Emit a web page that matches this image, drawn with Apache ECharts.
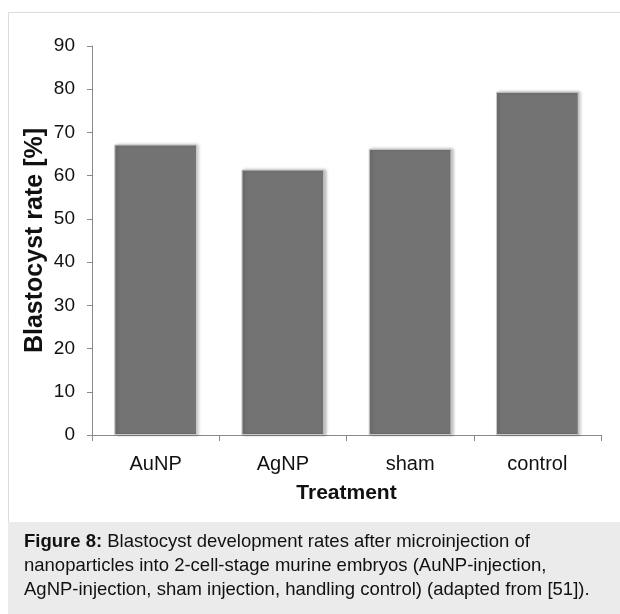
<!DOCTYPE html>
<html>
<head>
<meta charset="utf-8">
<script src="https://cdn.jsdelivr.net/npm/echarts@6/dist/echarts.min.js"></script>
<style>
html,body{margin:0;padding:0;background:#fff;}
#chart{width:620px;height:614px;}
</style>
</head>
<body>
<div id="chart"></div>
<script>
const categories = ['AuNP', 'AgNP', 'sham', 'control'];
const blastocystRate = [67.2, 61.4, 66.2, 79.4];
const yTicks = {min: 0, max: 90, interval: 10};
const yTitle = 'Blastocyst rate [%]';
const xTitle = 'Treatment';
const captionBold = 'Figure 8:';
const captionLines = [
  ' Blastocyst development rates after microinjection of',
  'nanoparticles into 2-cell-stage murine embryos (AuNP-injection,',
  'AgNP-injection, sham injection, handling control) (adapted from [51]).'
];

const chart = echarts.init(document.getElementById('chart'), null, {renderer: 'canvas'});
const FONT = '"Liberation Sans", Arial, sans-serif';
const option = {
  animation: false,
  backgroundColor: '#fff',
  grid: {left: 92, right: 19, top: 46, bottom: 179, containLabel: false},
  xAxis: {
    type: 'category',
    data: categories,
    axisLine: {lineStyle: {color: '#8a8a8a', width: 1}},
    axisTick: {show: true, length: 6, lineStyle: {color: '#8a8a8a'}},
    axisLabel: {color: '#111', fontSize: 20, fontFamily: FONT, margin: 19},
    name: xTitle,
    nameLocation: 'middle',
    nameGap: 48,
    nameMoveOverlap: false,
    nameTextStyle: {color: '#111', fontSize: 21, fontWeight: 'bold', fontFamily: FONT}
  },
  yAxis: {
    type: 'value',
    min: yTicks.min, max: yTicks.max, interval: yTicks.interval,
    axisLine: {show: true, lineStyle: {color: '#8a8a8a', width: 1}},
    axisTick: {show: true, length: 5, lineStyle: {color: '#8a8a8a'}},
    splitLine: {show: false},
    axisLabel: {color: '#111', fontSize: 19, fontFamily: FONT, margin: 17},
    name: yTitle,
    nameLocation: 'middle',
    nameGap: 44,
    nameMoveOverlap: false,
    nameRotate: 90,
    nameTextStyle: {color: '#111', fontSize: 25, fontWeight: 'bold', fontFamily: FONT}
  },
  series: [{
    type: 'bar',
    data: blastocystRate,
    barWidth: '65%',
    itemStyle: {
      color: '#737373',
      borderColor: '#c8c8c8',
      borderWidth: 1,
      shadowColor: 'rgba(0,0,0,0.25)',
      shadowBlur: 3,
      shadowOffsetX: 2,
      shadowOffsetY: 0
    }
  }],
  graphic: [
    {type: 'rect', z: -10, shape: {x: 8.5, y: 12.5, width: 640, height: 620}, style: {fill: 'none', stroke: '#dcdcdc', lineWidth: 1}},
    {type: 'rect', z: -9, shape: {x: 8, y: 522, width: 640, height: 100}, style: {fill: '#ebebeb'}},
    {
      type: 'text', left: 24, top: 532, z: 10,
      style: {
        text: '{b|' + captionBold + '}{n|' + captionLines[0] + '}\n{n|' + captionLines[1] + '}\n{n|' + captionLines[2] + '}',
        rich: {
          b: {fontFamily: FONT, fontSize: 18.5, fontWeight: 'bold', fill: '#111', lineHeight: 24},
          n: {fontFamily: FONT, fontSize: 18.5, fill: '#111', lineHeight: 24}
        }
      }
    }
  ]
};
chart.setOption(option);
</script>
</body>
</html>
